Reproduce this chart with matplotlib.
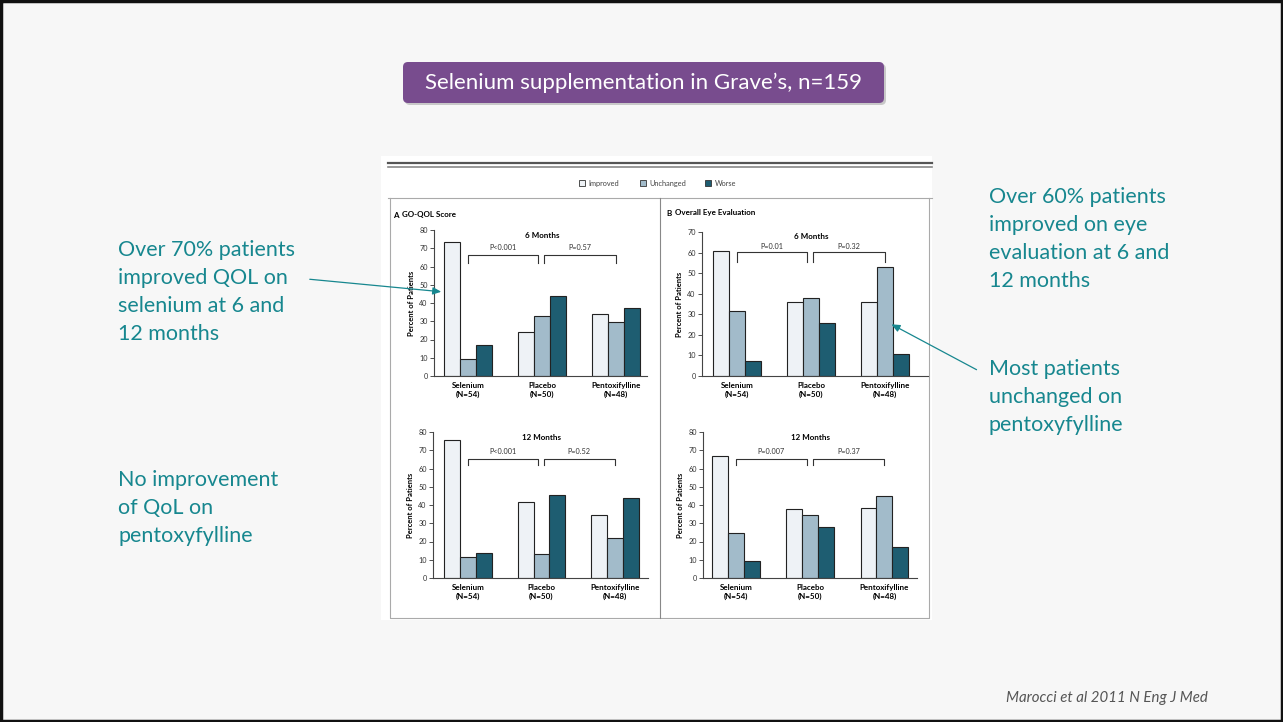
import numpy as np
import matplotlib
matplotlib.use("Agg")
from matplotlib import pyplot as plt
from matplotlib.patches import Rectangle, FancyBboxPatch

plt.rcParams['font.family'] = ['Lato', 'DejaVu Sans']

# ---------------------------- data --------------------------------------
groups = ["Selenium\n(N=54)", "Placebo\n(N=50)", "Pentoxifylline\n(N=48)"]
outcomes = ["Improved", "Unchanged", "Worse"]

# percent of patients, rows = groups, cols = improved / unchanged / worse
qol_6m = [[73.5, 9.5, 17], [24, 33, 44], [34, 29.5, 37]]
qol_12m = [[75.5, 11.5, 13.5], [41.5, 13, 45.5], [34.5, 22, 44]]
eye_6m = [[61, 31.5, 7.5], [36, 38, 26], [36, 53, 10.5]]
eye_12m = [[67, 24.5, 9.5], [38, 34.5, 28], [38.5, 45, 17]]

p_qol_6m = ["P<0.001", "P=0.57"]
p_qol_12m = ["P<0.001", "P=0.52"]
p_eye_6m = ["P=0.01", "P=0.32"]
p_eye_12m = ["P=0.007", "P=0.37"]

title_text = "Selenium supplementation in Grave\u2019s, n=159"
note_left_top = "Over 70% patients\nimproved QOL on\nselenium at 6 and\n12 months"
note_left_bottom = "No improvement\nof QoL on\npentoxyfylline"
note_right_top = "Over 60% patients\nimproved on eye\nevaluation at 6 and\n12 months"
note_right_bottom = "Most patients\nunchanged on\npentoxyfylline"
citation = "Marocci et al 2011 N Eng J Med"

bar_colors = ["#eef2f6", "#a2bbca", "#1e5d71"]
teal = "#17878f"
purple = "#784c8e"

W, H = 1283, 722
fig = plt.figure(figsize=(W / 100, H / 100), dpi=100)
fig.patch.set_facecolor("#f7f7f7")


def px_axes(x, y, w, h, **kw):
    # pixel box (top-left origin) -> figure fraction
    return fig.add_axes([x / W, 1 - (y + h) / H, w / W, h / H], **kw)


# background layer in pixel coords
bg = px_axes(0, 0, W, H, zorder=0)
bg.set_xlim(0, W)
bg.set_ylim(H, 0)
bg.axis("off")

# slide border
bg.plot([1, W - 1, W - 1, 1, 1], [1, 1, H - 1, H - 1, 1], color="#111111", lw=2.5)

# title pill
bg.add_patch(FancyBboxPatch((405, 64), 481, 41, boxstyle="round,pad=0,rounding_size=5",
                            fc="#9a9a9a", ec="none", alpha=0.5))
bg.add_patch(FancyBboxPatch((403, 62), 481, 41, boxstyle="round,pad=0,rounding_size=5",
                            fc=purple, ec="none"))
bg.text(643.5, 83, title_text, color="white", fontsize=16, ha="center", va="center")

# embedded figure panel
bg.add_patch(Rectangle((381, 156), 551, 464, fc="white", ec="none"))
bg.plot([388, 932], [163, 163], color="#555555", lw=1.6)
bg.plot([388, 932], [166.5, 166.5], color="#888888", lw=1.2)
bg.plot([388, 932], [198, 198], color="#aaaaaa", lw=0.8)
bg.plot([390, 390, 929, 929], [198, 618, 618, 198], color="#aaaaaa", lw=0.8)
bg.plot([660, 660], [198, 618], color="#888888", lw=0.8)

# legend
leg_x = [579, 640, 705]
leg_tx = [588, 649, 715]
for c, lx, tx, name in zip(bar_colors, leg_x, leg_tx, outcomes):
    bg.add_patch(Rectangle((lx, 180), 6, 6, fc=c, ec="#333333", lw=0.6))
    bg.text(tx, 183.5, name, fontsize=5.3, color="#444444", va="center", ha="left")

# panel headers
bg.text(393, 215, "A", fontsize=5.8, fontweight="bold", va="center")
bg.text(402, 215, "GO-QOL Score", fontsize=5.8, fontweight="bold", va="center")
bg.text(666, 213, "B", fontsize=5.8, fontweight="bold", va="center")
bg.text(675, 213, "Overall Eye Evaluation", fontsize=5.8, fontweight="bold", va="center")

# slide notes
note_kw = dict(color=teal, fontsize=15.5, ha="left", va="top", linespacing=1.5)
bg.text(118, 240, note_left_top, **note_kw)
bg.text(118, 470, note_left_bottom, **note_kw)
bg.text(989, 187, note_right_top, **note_kw)
bg.text(989, 359, note_right_bottom, **note_kw)
bg.text(1208, 698, citation, color="#555555", fontsize=10.8, style="italic",
        ha="right", va="center")


def draw_panel(ax, values, ytop, label, pvals, y_bar, y_drop, y_p, y_title, xlim):
    vals = np.array(values)
    x = np.arange(len(groups))
    bw = 0.215
    for i in range(3):
        ax.bar(x + (i - 1) * bw, vals[:, i], width=bw, color=bar_colors[i],
               edgecolor="#222222", linewidth=0.8, zorder=2)
    ax.set_xlim(*xlim)
    ax.set_ylim(0, ytop)
    ax.set_yticks(np.arange(0, ytop + 1, 10))
    ax.set_xticks(x)
    ax.set_xticklabels(groups, fontsize=5.8, fontweight="bold", linespacing=1.4)
    ax.tick_params(axis="x", length=0, pad=4)
    ax.tick_params(axis="y", length=3, width=0.6, labelsize=5.2, pad=1.5,
                   colors="#333333")
    for s in ["top", "right"]:
        ax.spines[s].set_visible(False)
    for s in ["left", "bottom"]:
        ax.spines[s].set_linewidth(0.8)
        ax.spines[s].set_color("#444444")
    ax.set_facecolor("none")
    ax.set_ylabel("Percent of Patients", fontsize=5.5, fontweight="bold", labelpad=3)
    ax.text(1.0, y_title, label, fontsize=5.8, fontweight="bold", ha="center", va="center")
    # comparison brackets
    for (a, b), p in zip([(0.0, 0.95), (1.03, 2.0)], pvals):
        ax.plot([a, a, b, b], [y_drop, y_bar, y_bar, y_drop], color="#333333", lw=0.8)
        ax.text((a + b) / 2, y_p, p, fontsize=5.2, ha="center", va="center", color="#333333")


axA6 = px_axes(434, 230, 213, 146, zorder=2)
draw_panel(axA6, qol_6m, 80, "6 Months", p_qol_6m, 66.3, 62, 70.5, 77, (-0.46, 2.42))
axB6 = px_axes(702, 232, 226, 144, zorder=2)
draw_panel(axB6, eye_6m, 70, "6 Months", p_eye_6m, 60.3, 55.5, 63, 68, (-0.47, 2.58))
axA12 = px_axes(433, 432, 215, 146, zorder=2)
draw_panel(axA12, qol_12m, 80, "12 Months", p_qol_12m, 65.2, 62, 69.5, 77, (-0.476, 2.45))
axB12 = px_axes(703, 432, 214, 146, zorder=2)
draw_panel(axB12, eye_12m, 80, "12 Months", p_eye_12m, 65.2, 62, 69.5, 77, (-0.45, 2.44))

# arrows on top
top = px_axes(0, 0, W, H, zorder=5)
top.set_xlim(0, W)
top.set_ylim(H, 0)
top.axis("off")
top.patch.set_alpha(0)
arrow_kw = dict(arrowstyle="-|>,head_length=0.5,head_width=0.22", color=teal, lw=0.9)
top.annotate("", xy=(444, 292), xytext=(307, 279), arrowprops=arrow_kw)
top.annotate("", xy=(889, 323), xytext=(979, 371), arrowprops=arrow_kw)

fig.savefig("out.png", dpi=100, facecolor=fig.get_facecolor())
